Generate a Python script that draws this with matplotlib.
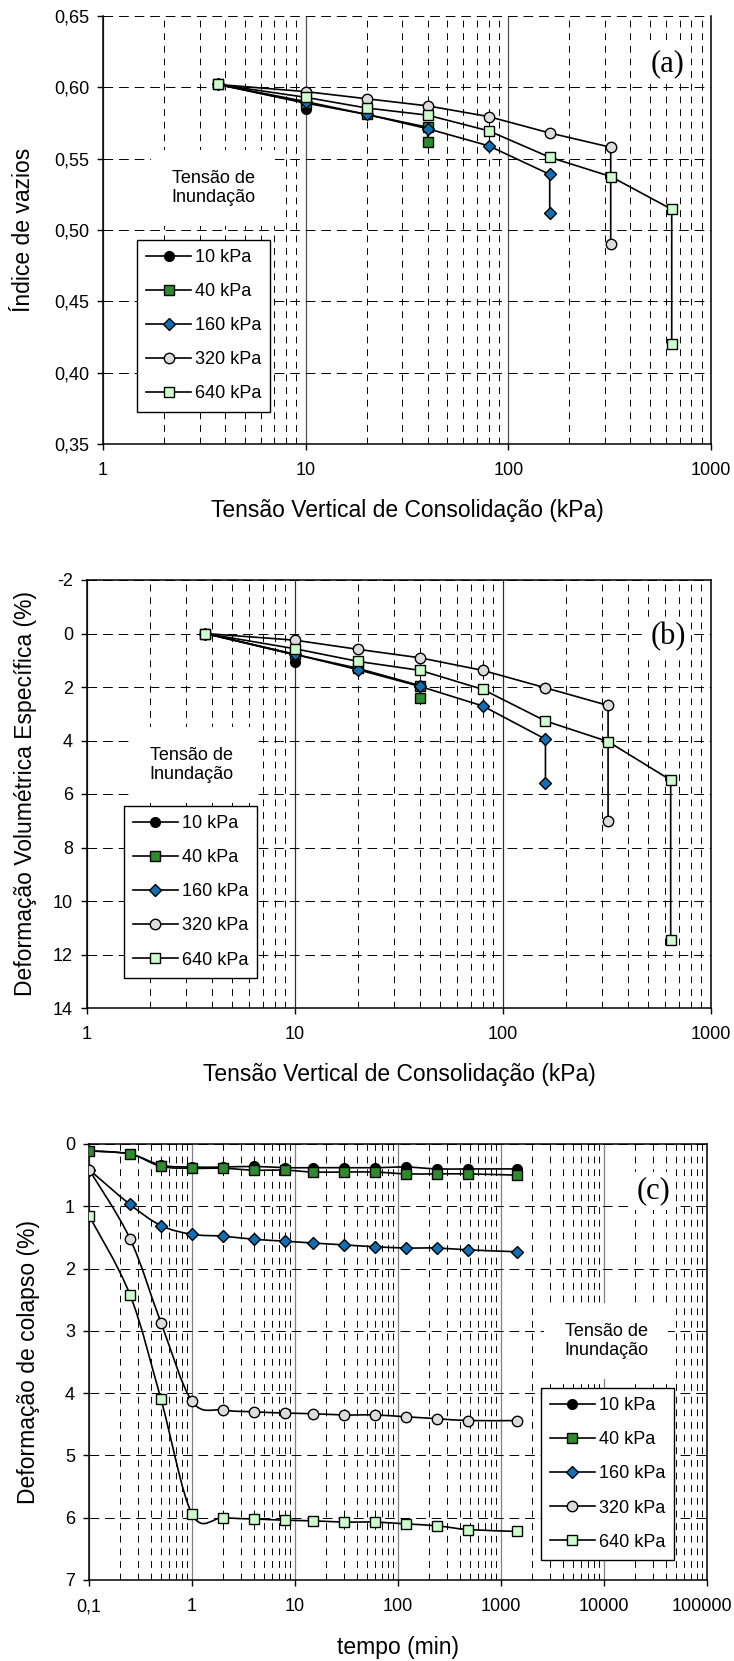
import matplotlib
matplotlib.use('Agg')
import matplotlib.pyplot as plt
import numpy as np
from matplotlib.path import Path
from matplotlib.patches import PathPatch
from matplotlib.ticker import FixedLocator, FuncFormatter, LogLocator, NullFormatter
from matplotlib.lines import Line2D
from matplotlib.transforms import ScaledTranslation

plt.rcParams['font.family'] = ['Liberation Sans', 'DejaVu Sans']

# ---------------- data ----------------
series_labels = ['10 kPa', '40 kPa', '160 kPa', '320 kPa', '640 kPa']

# Panel (a): void ratio vs vertical stress
a_x_10 = [3.7, 10, 10]
a_y_10 = [0.602, 0.589, 0.585]
a_x_40 = [3.7, 10, 20, 40, 40]
a_y_40 = [0.602, 0.589, 0.581, 0.572, 0.562]
a_x_160 = [3.7, 10, 20, 40, 80, 160, 160]
a_y_160 = [0.602, 0.590, 0.581, 0.571, 0.559, 0.539, 0.512]
a_x_320 = [3.7, 10, 20, 40, 80, 160, 320, 320]
a_y_320 = [0.602, 0.597, 0.592, 0.587, 0.5795, 0.568, 0.558, 0.490]
a_x_640 = [3.7, 10, 20, 40, 80, 160, 320, 640, 640]
a_y_640 = [0.602, 0.593, 0.5855, 0.5805, 0.5695, 0.551, 0.5375, 0.5145, 0.420]

# Panel (b): specific volumetric strain (%) vs vertical stress
b_x_10 = [3.7, 10, 10]
b_y_10 = [0.0, 0.80, 1.06]
b_x_40 = [3.7, 10, 20, 40, 40]
b_y_40 = [0.0, 0.78, 1.30, 1.95, 2.42]
b_x_160 = [3.7, 10, 20, 40, 80, 160, 160]
b_y_160 = [0.0, 0.78, 1.35, 1.98, 2.71, 3.95, 5.60]
b_x_320 = [3.7, 10, 20, 40, 80, 160, 320, 320]
b_y_320 = [0.0, 0.25, 0.59, 0.91, 1.38, 2.03, 2.69, 7.00]
b_x_640 = [3.7, 10, 20, 40, 80, 160, 320, 640, 640]
b_y_640 = [0.0, 0.57, 1.04, 1.38, 2.09, 3.27, 4.04, 5.48, 11.45]

# Panel (c): collapse strain (%) vs time (min)
c_time = [0.1, 0.25, 0.5, 1, 2, 4, 8, 15, 30, 60, 120, 240, 480, 1440]
c_y_10 = [0.11, 0.16, 0.34, 0.37, 0.37, 0.36, 0.38, 0.38, 0.38, 0.38, 0.37, 0.40, 0.40, 0.40]
c_y_40 = [0.11, 0.16, 0.36, 0.39, 0.39, 0.42, 0.42, 0.45, 0.45, 0.45, 0.48, 0.48, 0.48, 0.50]
c_y_160 = [0.41, 0.97, 1.31, 1.45, 1.48, 1.53, 1.56, 1.59, 1.62, 1.65, 1.67, 1.67, 1.70, 1.73]
c_y_320 = [0.41, 1.52, 2.87, 4.13, 4.27, 4.30, 4.32, 4.33, 4.35, 4.35, 4.38, 4.41, 4.44, 4.44]
c_y_640 = [1.15, 2.42, 4.10, 5.94, 6.00, 6.02, 6.04, 6.05, 6.07, 6.07, 6.10, 6.13, 6.19, 6.22]

a_yticks = [0.35, 0.40, 0.45, 0.50, 0.55, 0.60, 0.65]
b_yticks = [-2, 0, 2, 4, 6, 8, 10, 12, 14]
c_yticks = [0, 1, 2, 3, 4, 5, 6, 7]
ab_xticks = [1, 10, 100, 1000]
c_xticks = [0.1, 1, 10, 100, 1000, 10000, 100000]

# ---------------- styles ----------------
styles = [
    dict(marker='o', mfc='black', ms=7),
    dict(marker='s', mfc='#2E8B2E', ms=7),
    dict(marker='D', mfc='#1170B5', ms=6.5),
    dict(marker='o', mfc='#DCDCDC', ms=7.5),
    dict(marker='s', mfc='#CCFFCC', ms=7.5),
]
TICK_FS = 13
LABEL_FS = 16.5
LEG_FS = 13

W, H = 734, 1661
fig = plt.figure(figsize=(W / 100, H / 100), dpi=100)

def comma_fmt(v, pos):
    if abs(v - round(v)) < 1e-9:
        return '%d' % round(v)
    return ('%.1f' % v).replace('.', ',')

def setup_axes(ax, xticks, yticks, xlim, ylim, yfmt, major_vcolor):
    ax.set_xscale('log')
    ax.set_xlim(*xlim)
    ax.set_ylim(*ylim)
    ax.xaxis.set_major_locator(FixedLocator(xticks))
    ax.xaxis.set_minor_locator(LogLocator(base=10, subs=np.arange(2, 10)))
    ax.xaxis.set_minor_formatter(NullFormatter())
    ax.xaxis.set_major_formatter(FuncFormatter(comma_fmt))
    ax.yaxis.set_major_locator(FixedLocator(yticks))
    ax.yaxis.set_major_formatter(FuncFormatter(yfmt))
    ax.tick_params(axis='both', which='major', direction='out', length=4, width=1,
                   labelsize=TICK_FS, pad=6)
    ax.tick_params(axis='x', which='major', pad=9)
    ax.tick_params(axis='x', which='minor', length=0)
    ax.tick_params(axis='both', which='both', right=False, top=False)
    ax.xaxis.grid(True, which='major', color=major_vcolor, ls='-', lw=0.9)
    ax.xaxis.grid(True, which='minor', color='black', ls=(0, (7, 6)), lw=0.7)
    ax.yaxis.grid(True, which='major', color='black', ls=(0, (10, 6)), lw=0.7)
    ax.set_axisbelow(True)
    for s in ax.spines.values():
        s.set_linewidth(1.1)

def smooth_line(ax, xs, ys, **kw):
    lx = np.log10(np.asarray(xs, float))
    y = np.asarray(ys, float)
    n = len(lx)
    verts = [(xs[0], ys[0])]
    codes = [Path.MOVETO]
    for i in range(n - 1):
        p0 = (lx[max(i - 1, 0)], y[max(i - 1, 0)])
        p1 = (lx[i], y[i])
        p2 = (lx[i + 1], y[i + 1])
        p3 = (lx[min(i + 2, n - 1)], y[min(i + 2, n - 1)])
        c1 = (p1[0] + (p2[0] - p0[0]) / 6, p1[1] + (p2[1] - p0[1]) / 6)
        c2 = (p2[0] - (p3[0] - p1[0]) / 6, p2[1] - (p3[1] - p1[1]) / 6)
        for c in (c1, c2, p2):
            verts.append((10 ** c[0], c[1]))
            codes.append(Path.CURVE4)
    patch = PathPatch(Path(verts, codes), fill=False, transform=ax.transData, **kw)
    ax.add_patch(patch)

def add_legend(ax, anchor):
    handles = [Line2D([], [], color='black', lw=1.2, mec='black', mew=1.0, **st)
               for st in styles]
    leg = ax.legend(handles, series_labels, loc='upper left', bbox_to_anchor=anchor,
                    borderaxespad=0, frameon=True, fancybox=False, framealpha=1,
                    edgecolor='black', fontsize=LEG_FS, handlelength=2.5,
                    handletextpad=0.2, labelspacing=0.95, borderpad=0.5)
    leg.get_frame().set_linewidth(1.0)
    leg.set_zorder(5)

def add_note(ax, x, y):
    ax.text(x, y, 'Tensão de\nInundação', transform=ax.transAxes, ha='center', va='center',
            fontsize=LEG_FS, linespacing=1.2, zorder=4,
            bbox=dict(boxstyle='square,pad=1.1', fc='white', ec='none'))

def add_letter(ax, s, x, y):
    ax.text(x, y, s, transform=ax.transAxes, ha='center', va='center',
            fontsize=22, family=['Liberation Serif', 'DejaVu Serif'], zorder=4,
            bbox=dict(boxstyle='square,pad=0.15', fc='white', ec='none'))

# ---------------- panel (a) ----------------
axa = fig.add_axes([103 / W, 1 - 444 / H, 608 / W, 428 / H])
setup_axes(axa, ab_xticks, a_yticks, (1, 1000), (0.35, 0.65),
           lambda v, p: ('%.2f' % v).replace('.', ','), '#505050')
axa.spines['top'].set_visible(False)
for xs, ys, st in zip([a_x_10, a_x_40, a_x_160, a_x_320, a_x_640],
                      [a_y_10, a_y_40, a_y_160, a_y_320, a_y_640], styles):
    axa.plot(xs, ys, color='black', lw=1.2, mec='black', mew=1.0, zorder=3, **st)
axa.set_ylabel('Índice de vazios', fontsize=LABEL_FS)
axa.yaxis.set_label_coords(-0.112, 0.5)
axa.set_xlabel('Tensão Vertical de Consolidação (kPa)', fontsize=LABEL_FS)
axa.xaxis.set_label_coords(0.5, -0.128)
add_legend(axa, (0.056, 0.477))
add_note(axa, 0.181, 0.598)
add_letter(axa, '(a)', 0.928, 0.888)

# ---------------- panel (b) ----------------
axb = fig.add_axes([87 / W, 1 - 1008 / H, 624 / W, 428 / H])
setup_axes(axb, ab_xticks, b_yticks, (1, 1000), (14, -2),
           lambda v, p: '%d' % round(v), '#303030')
for xs, ys, st in zip([b_x_10, b_x_40, b_x_160, b_x_320, b_x_640],
                      [b_y_10, b_y_40, b_y_160, b_y_320, b_y_640], styles):
    axb.plot(xs, ys, color='black', lw=1.2, mec='black', mew=1.0, zorder=3, **st)
axb.set_ylabel('Deformação Volumétrica Específica (%)', fontsize=LABEL_FS)
axb.yaxis.set_label_coords(-0.08, 0.5)
axb.set_xlabel('Tensão Vertical de Consolidação (kPa)', fontsize=LABEL_FS)
axb.xaxis.set_label_coords(0.5, -0.128)
add_legend(axb, (0.059, 0.472))
add_note(axb, 0.167, 0.568)
add_letter(axb, '(b)', 0.931, 0.867)

# ---------------- panel (c) ----------------
axc = fig.add_axes([89 / W, 1 - 1580 / H, 618 / W, 436 / H])
setup_axes(axc, c_xticks, c_yticks, (0.1, 100000), (7, 0),
           lambda v, p: '%d' % round(v), '#808080')
for ys, st in zip([c_y_10, c_y_40, c_y_160, c_y_320, c_y_640], styles):
    smooth_line(axc, c_time, ys, color='black', lw=1.2, zorder=3)
    axc.plot(c_time, ys, ls='none', mec='black', mew=1.0, zorder=3, **st)
axc.set_ylabel('Deformação de colapso (%)', fontsize=LABEL_FS)
axc.yaxis.set_label_coords(-0.08, 0.5)
axc.set_xlabel('tempo (min)', fontsize=LABEL_FS)
axc.xaxis.set_label_coords(0.5, -0.128)
add_legend(axc, (0.731, 0.440))
add_note(axc, 0.837, 0.548)
add_letter(axc, '(c)', 0.914, 0.892)

# keep the last time label inside the figure (right-aligned at the edge, as in the reference)
fig.canvas.draw()
last = axc.get_xticklabels()[-1]
last.set_horizontalalignment('right')
last.set_transform(last.get_transform() + ScaledTranslation(25 / 100, 0, fig.dpi_scale_trans))

fig.savefig('out.png', dpi=100)
